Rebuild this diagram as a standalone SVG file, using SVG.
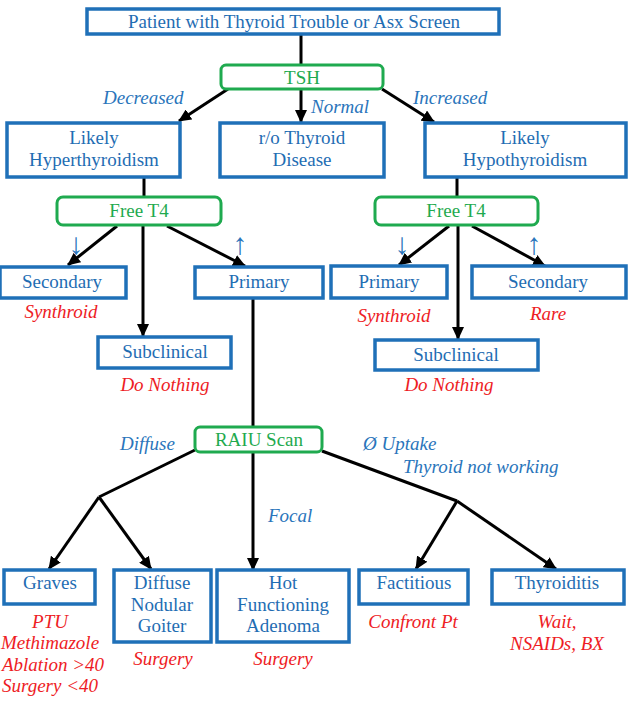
<svg xmlns="http://www.w3.org/2000/svg" width="630" height="706" viewBox="0 0 630 706">
<defs>
<marker id="ah" markerUnits="userSpaceOnUse" markerWidth="14" markerHeight="12" refX="12" refY="6" orient="auto">
<path d="M0,0 L13,6 L0,12 Z" fill="#000"/>
</marker>
<style>
text{font-family:'Liberation Serif','Times New Roman',Times,serif;font-size:19px}
.b{fill:#fff;stroke:#1f70b8;stroke-width:3.5}
.g{fill:#fff;stroke:#1faa4f;stroke-width:3}
.t{fill:#1f6db3;text-anchor:middle}
.tg{fill:#1faa4f;text-anchor:middle}
.l{font-style:italic;fill:#2a75bb}
.ar{fill:#2a75bb;font-size:30px;text-anchor:middle}
.r{font-style:italic;fill:#ee1c25;text-anchor:middle}
.c{stroke:#000;stroke-width:3;fill:none}
.a{stroke:#000;stroke-width:3;fill:none;marker-end:url(#ah)}
</style>
</defs>
<rect width="630" height="706" fill="#fff"/>
<g id="connectors">
<line class="c" x1="301" y1="34" x2="301" y2="65"/>
<line class="a" x1="228" y1="89" x2="179" y2="121"/>
<line class="a" x1="301" y1="89" x2="301" y2="122"/>
<line class="a" x1="382" y1="89" x2="434" y2="122"/>
<line class="c" x1="144" y1="177" x2="144" y2="197"/>
<line class="c" x1="457" y1="177" x2="457" y2="197"/>
<line class="a" x1="117" y1="226" x2="68" y2="265"/>
<line class="a" x1="143" y1="226" x2="143" y2="336"/>
<line class="a" x1="167" y1="226" x2="245" y2="266"/>
<line class="a" x1="449" y1="226" x2="399" y2="265"/>
<line class="a" x1="458" y1="226" x2="458" y2="339"/>
<line class="a" x1="472" y1="226" x2="545" y2="266"/>
<line class="c" x1="253" y1="298" x2="253" y2="427"/>
<polyline class="c" points="195,450 99,497"/>
<line class="a" x1="99" y1="497" x2="49" y2="569"/>
<line class="a" x1="99" y1="497" x2="151" y2="569"/>
<line class="a" x1="253" y1="452" x2="253" y2="570"/>
<polyline class="c" points="322,451 457,501"/>
<line class="a" x1="457" y1="501" x2="416" y2="569"/>
<line class="a" x1="457" y1="501" x2="556" y2="569"/>
</g>
<g id="labels">
<text class="l" x="103" y="104">Decreased</text>
<text class="l" x="311" y="113">Normal</text>
<text class="l" x="413" y="104">Increased</text>
<text class="ar" x="76" y="254">↓</text>
<text class="ar" x="240" y="254">↑</text>
<text class="ar" x="402" y="254">↓</text>
<text class="ar" x="534" y="254">↑</text>
<text class="l" x="120" y="450">Diffuse</text>
<text class="l" x="363" y="450">Ø Uptake</text>
<text class="l" x="403" y="473">Thyroid not working</text>
<text class="l" x="268" y="522">Focal</text>
</g>
<g id="n-top"><rect class="b" x="87" y="9" width="412" height="25"/><text class="t" x="294" y="28">Patient with Thyroid Trouble or Asx Screen</text></g>
<g id="n-tsh"><rect class="g" x="221" y="65" width="162" height="24" rx="5"/><text class="tg" x="302" y="84">TSH</text></g>
<g id="n-hyper"><rect class="b" x="7" y="123" width="173" height="54"/><text class="t" x="94" y="144">Likely</text><text class="t" x="94" y="166">Hyperthyroidism</text></g>
<g id="n-ro"><rect class="b" x="220" y="123" width="164" height="54"/><text class="t" x="302" y="144">r/o Thyroid</text><text class="t" x="302" y="166">Disease</text></g>
<g id="n-hypo"><rect class="b" x="425" y="123" width="201" height="54"/><text class="t" x="525" y="144">Likely</text><text class="t" x="525" y="166">Hypothyroidism</text></g>
<g id="n-ft4l"><rect class="g" x="57" y="197" width="164" height="28" rx="6"/><text class="tg" x="139" y="217">Free T4</text></g>
<g id="n-ft4r"><rect class="g" x="375" y="197" width="163" height="28" rx="6"/><text class="tg" x="456" y="217">Free T4</text></g>
<g id="n-secl"><rect class="b" x="0" y="267" width="126" height="31"/><text class="t" x="62" y="288">Secondary</text><text class="r" x="61" y="318">Synthroid</text></g>
<g id="n-priml"><rect class="b" x="195" y="267" width="128" height="31"/><text class="t" x="259" y="288">Primary</text></g>
<g id="n-subl"><rect class="b" x="98" y="337" width="133" height="31"/><text class="t" x="165" y="358">Subclinical</text><text class="r" x="165" y="391">Do Nothing</text></g>
<g id="n-primr"><rect class="b" x="331" y="266" width="116" height="32"/><text class="t" x="389" y="288">Primary</text><text class="r" x="394" y="322">Synthroid</text></g>
<g id="n-secr"><rect class="b" x="472" y="266" width="154" height="32"/><text class="t" x="548" y="288">Secondary</text><text class="r" x="548" y="320">Rare</text></g>
<g id="n-subr"><rect class="b" x="375" y="340" width="163" height="30"/><text class="t" x="456" y="361">Subclinical</text><text class="r" x="449" y="391">Do Nothing</text></g>
<g id="n-raiu"><rect class="g" x="195" y="427" width="127" height="25" rx="5"/><text class="tg" x="259" y="446">RAIU Scan</text></g>
<g id="n-graves"><rect class="b" x="4" y="570" width="91" height="34"/><text class="t" x="50" y="589">Graves</text>
<text class="r" x="50" y="628">PTU</text><text class="r" x="50" y="649">Methimazole</text><text class="r" x="53" y="671">Ablation &gt;40</text><text class="r" x="50" y="692">Surgery &lt;40</text></g>
<g id="n-dng"><rect class="b" x="114" y="570" width="97" height="72"/><text class="t" x="162" y="589">Diffuse</text><text class="t" x="162" y="611">Nodular</text><text class="t" x="162" y="632">Goiter</text><text class="r" x="163" y="665">Surgery</text></g>
<g id="n-hfa"><rect class="b" x="217" y="570" width="132" height="72"/><text class="t" x="283" y="589">Hot</text><text class="t" x="283" y="611">Functioning</text><text class="t" x="283" y="632">Adenoma</text><text class="r" x="283" y="665">Surgery</text></g>
<g id="n-fact"><rect class="b" x="359" y="570" width="109" height="34"/><text class="t" x="414" y="589">Factitious</text><text class="r" x="413" y="628">Confront Pt</text></g>
<g id="n-thyr"><rect class="b" x="492" y="570" width="132" height="34"/><text class="t" x="557" y="589">Thyroiditis</text><text class="r" x="557" y="628">Wait,</text><text class="r" x="557" y="650">NSAIDs, BX</text></g>
</svg>
